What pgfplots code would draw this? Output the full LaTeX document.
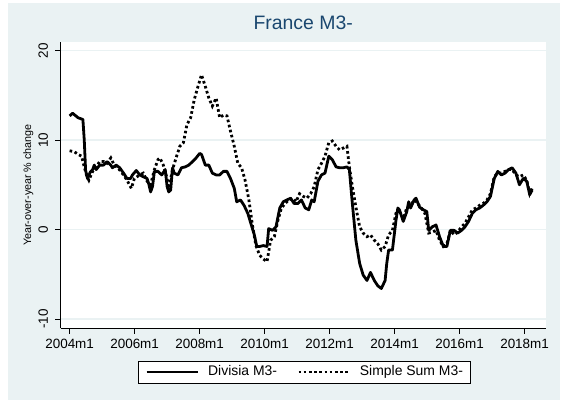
\documentclass[border=0pt]{standalone}
\usepackage{pgfplots}
\pgfplotsset{compat=1.18}
\usepackage{fontspec}
\setmainfont{Liberation Sans}
\definecolor{stbg}{HTML}{EAF2F3}
\definecolor{sttitle}{HTML}{1A476F}

\begin{document}
\begin{tikzpicture}
% graph region
\fill[white] (0bp,0bp) rectangle (570bp,402bp);
\fill[stbg] (8bp,2bp) rectangle (560bp,398.7bp);
\begin{axis}[
  at={(60.7bp,73.7bp)}, anchor=south west,
  scale only axis, width=485bp, height=286.6bp,
  xmin=-3.3, xmax=175.8, ymin=-11.05, ymax=21,
  axis background/.style={fill=white},
  axis x line*=bottom, axis y line*=left,
  axis line style={line width=0.8bp, black},
  xtick={0,24,48,72,96,120,144,168},
  xticklabels={2004m1,2006m1,2008m1,2010m1,2012m1,2014m1,2016m1,2018m1},
  ytick={-10,0,10,20},
  tick align=outside, major tick length=5.5bp,
  tick style={line width=0.8bp, black},
  ymajorgrids, grid style={stbg, line width=1.4bp},
  /pgf/number format/assume math mode=true,
  tick label style={font=\fontsize{13.5}{16}\selectfont},
  xticklabel style={anchor=north, inner sep=0pt, yshift=-5.4bp},
  yticklabel style={xshift=-7bp, rotate=90, anchor=south, inner sep=0pt},
  title={France M3-},
  title style={at={(0.5,1)}, anchor=base, yshift=6.7bp,
    font=\fontsize{19.5}{22}\selectfont, text=sttitle},
  ylabel={Year-over-year \% change},
  every axis y label/.style={at={(axis description cs:-0.0612,0.5)},
    rotate=90, anchor=base, font=\fontsize{10.8}{12}\selectfont},
  legend columns=2,
  legend style={at={(0.502,-0.1525)}, anchor=center, draw=black,
    line width=0.7bp, fill=white, inner xsep=7bp, inner ysep=4.5bp,
    font=\fontsize{14}{16}\selectfont,
    /tikz/every odd column/.append style={column sep=9bp},
    /tikz/every even column/.append style={column sep=20bp},
    nodes={inner sep=0pt, text height=10bp, text depth=3bp, anchor=west}},
  legend image code/.code={\draw[#1] (0bp,0bp) -- (51bp,0bp);},
]
\addplot[black, line width=2.8bp, line join=round] coordinates {
(0,12.7) (1.1,13.0) (3.1,12.5) (4.0,12.4) (4.9,12.3) (5.4,10.0) (5.9,6.6)
(6.6,5.7) (7.6,6.4) (8.5,6.7) (9.1,7.2) (9.8,6.7) (11.1,7.2) (12.5,7.2)
(13.8,7.6) (15.2,7.2) (15.8,6.9) (17.2,7.2) (18.5,6.9) (19.9,6.3) (21.2,5.7)
(22.5,5.7) (23.2,6.1) (24.6,6.6) (25.9,6.1) (27.2,5.9) (28.6,5.7) (29.3,5.0)
(29.9,4.2) (30.6,4.8) (31.3,6.5) (32.6,6.5) (34.0,6.1) (35.3,6.7) (36.0,4.8)
(36.6,4.2) (37.3,4.4) (38.0,6.9) (38.6,6.3) (40.0,6.1) (41.3,6.9) (42.7,7.0)
(44.0,7.2) (45.4,7.6) (46.7,8.0) (48.0,8.5) (48.7,8.4) (50.1,7.2) (51.4,7.2)
(52.7,6.3) (54.1,6.1) (55.4,6.1) (56.8,6.5) (58.1,6.5) (59.4,5.7) (60.8,4.6)
(61.7,3.1) (63.1,3.3) (64.4,2.7) (65.8,1.8) (67.1,0.5) (68.2,-0.6) (69.1,-1.9)
(70.2,-1.9) (71.5,-1.8) (72.9,-1.9) (73.5,0.1) (74.9,-0.1) (76.2,0.3) (77.6,2.4)
(78.9,3.1) (80.2,3.3) (81.6,3.5) (82.9,2.9) (84.3,2.9) (85.6,3.3) (87.0,2.4)
(88.3,2.2) (89.4,3.3) (90.3,3.1) (91.7,5.4) (93.0,6.1) (94.3,6.3) (95.7,8.2)
(97.0,7.8) (98.4,7.0) (99.7,6.9) (101.0,6.9) (102.4,7.0) (103.3,6.7) (104.4,2.9)
(105.7,-1.2) (107.1,-3.8) (108.4,-5.1) (109.8,-5.7) (111.1,-4.8) (112.5,-5.7)
(113.8,-6.3) (115.1,-6.6) (116.5,-5.7) (117.1,-3.8) (117.8,-2.3) (119.2,-2.3)
(120.5,1.0) (121.2,2.4) (121.8,2.2) (123.2,0.9) (124.5,2.0) (125.2,3.1)
(125.9,2.4) (127.2,3.3) (127.9,3.5) (129.2,2.5) (130.6,2.2) (131.9,2.0)
(132.6,-0.1) (133.9,0.3) (135.3,0.5) (136.6,-0.8) (138.0,-1.9) (139.3,-1.9)
(140.6,-0.1) (142.0,-0.1) (143.3,-0.4) (144.7,-0.1) (146.0,0.3) (147.3,0.9)
(148.7,1.8) (150.0,2.2) (151.4,2.4) (152.7,2.7) (154.1,3.1) (155.4,3.7)
(156.8,5.7) (158.1,6.5) (159.4,6.1) (160.8,6.3) (162.1,6.7) (163.4,6.9)
(164.8,6.3) (166.1,5.0) (167.5,5.7) (168.8,5.4) (169.9,3.9) (170.8,4.4)
};
\addlegendentry{Divisia M3-}
\addplot[black, line width=2.8bp, dash pattern=on 2.6bp off 2.6bp] coordinates {
(0,8.8) (1.7,8.7) (3.1,8.4) (4.4,8.2) (5.4,7.0) (6.4,5.9) (7.1,5.5) (8.5,6.5)
(9.8,7.0) (11.1,7.6) (12.5,7.6) (13.8,7.4) (15.2,8.0) (16.5,7.2) (17.8,6.9)
(19.9,6.1) (21.2,5.5) (22.8,4.6) (23.9,5.7) (25.9,6.1) (27.2,6.3) (28.6,5.4)
(29.9,5.0) (31.3,6.7) (32.6,7.8) (33.3,8.0) (34.6,7.2) (36.0,5.7) (36.6,4.6)
(38.0,6.7) (39.3,8.0) (40.7,9.3) (42.0,9.7) (43.3,11.7) (44.7,12.5) (46.0,14.5)
(47.4,16.0) (48.7,17.3) (50.1,16.0) (51.4,14.7) (52.7,13.8) (54.1,14.7)
(55.4,12.5) (56.8,12.8) (58.1,12.7) (59.4,11.0) (60.8,9.3) (62.1,7.4) (63.5,6.9)
(64.8,5.5) (66.2,3.3) (67.5,0.5) (68.8,-1.8) (70.2,-2.9) (71.5,-3.3) (72.9,-3.6)
(74.2,-1.2) (75.6,-0.8) (76.9,1.0) (78.2,2.4) (79.6,2.9) (80.9,3.3) (82.3,3.5)
(83.6,3.1) (84.9,4.0) (86.3,3.7) (87.6,3.5) (89.0,4.0) (90.3,4.8) (91.7,6.7)
(93.0,7.4) (94.3,8.2) (95.7,9.7) (97.0,9.9) (98.4,9.3) (99.7,8.9) (101.0,9.1)
(102.4,9.3) (103.3,7.0) (104.4,4.8) (105.7,2.5) (107.1,0.3) (108.4,-0.4)
(109.8,-0.8) (111.1,-0.6) (112.5,-1.2) (113.8,-1.6) (115.1,-2.3) (116.5,-1.9)
(117.8,-0.6) (119.2,-0.1) (120.5,1.8) (121.8,2.0) (123.2,1.2) (124.5,2.4)
(125.9,2.7) (127.2,3.3) (128.5,2.9) (129.9,2.4) (131.2,1.8) (132.6,-0.4)
(133.9,-0.3) (135.3,-0.1) (136.6,-1.2) (138.0,-1.9) (139.3,-1.6) (140.6,-0.1)
(142.0,-0.6) (143.3,-0.3) (144.7,0.3) (146.0,0.7) (147.3,1.4) (148.7,2.2)
(150.0,2.4) (151.4,2.7) (152.7,2.9) (154.1,3.3) (155.4,4.0) (156.8,5.9)
(158.1,6.3) (159.4,6.3) (160.8,6.5) (162.1,6.7) (163.4,6.7) (164.8,6.1)
(166.1,5.9) (167.5,6.1) (168.8,5.5) (169.9,4.0) (170.8,4.6)
};
\addlegendentry{Simple Sum M3-}
\end{axis}
\end{tikzpicture}
\end{document}
